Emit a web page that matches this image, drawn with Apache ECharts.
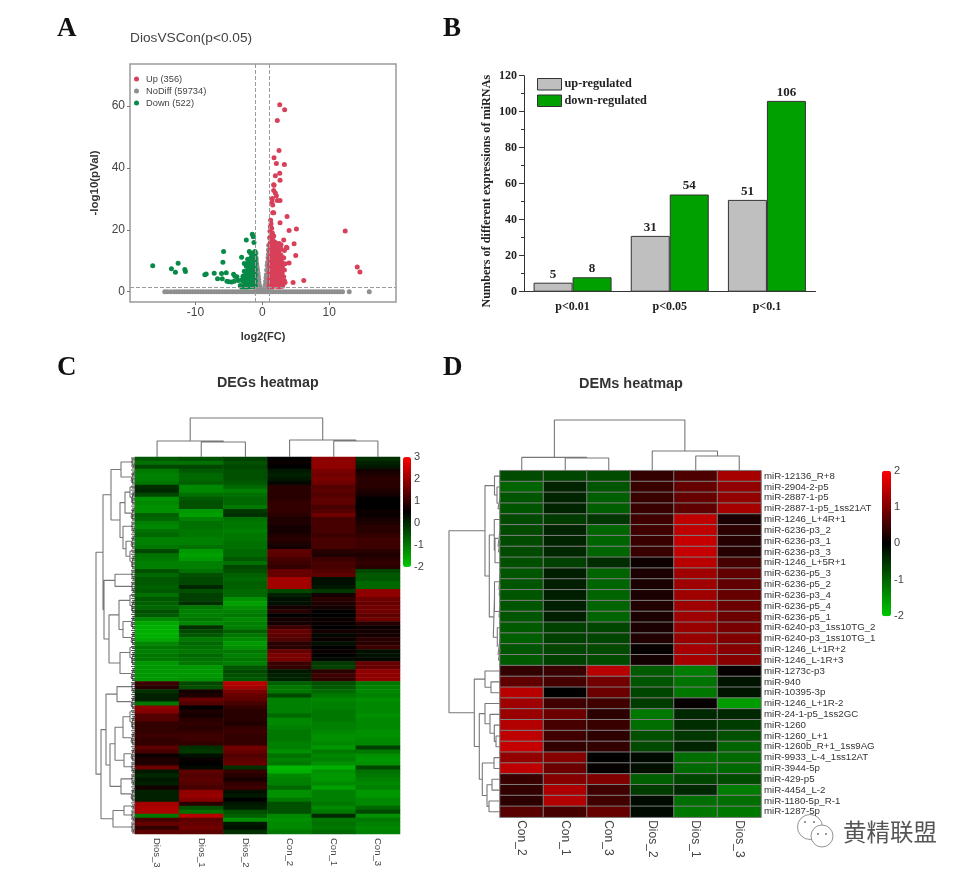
<!DOCTYPE html>
<html><head><meta charset="utf-8">
<style>html,body{margin:0;padding:0;background:#fff}#c{width:969px;height:875px;filter:blur(0.5px)}</style>
<script src="https://cdn.jsdelivr.net/npm/echarts@6/dist/echarts.min.js"></script>
</head><body><div id="c"></div>
<script>
/* Panel A: volcano points, [log2(FC), -log10(pVal)] */
const volcanoUp=[[2.6,60.4],[3.34,58.8],[2.24,55.3],[2.5,45.6],[1.75,43.3],[3.3,41.1],[2.1,41.4],[2.6,38.3],[1.95,37.5],[2.65,36],[1.75,34.4],[1.7,34.6],[1.7,32.7],[1.95,31.9],[2.1,31],[1.5,30.1],[2.25,29.5],[2.65,29.5],[1.45,29],[1.55,28],[1.55,25.5],[1.7,25.5],[3.7,24.3],[1.25,23.1],[1.3,22],[2.65,22.3],[5.1,20.3],[4,19.8],[12.4,19.6],[14.2,8],[14.6,6.4],[3.2,16.7],[4.75,15.5],[3.6,14.4],[3.7,14.2],[5,11.7],[4,9.3],[6.2,3.6],[4.6,3],[3.3,3.5],[3.1,2.4],[3,1.8],[3.4,3],
[1.2,21],[1.4,20.5],[1.15,19.5],[1.5,19],[1.3,18.2],[1.7,18],[1.1,17.4],[1.4,17],[1.6,16.6],[1.9,16],[1.2,16],[2.1,15.6],[2.5,15.6],[2.8,15.2],[1.1,15],[1.5,15],[1.8,14.6],[2.3,14.2],[2.8,13.8],[3.3,13.3],[1.25,14],[1.6,13.6],[2,13.3],[2.5,13],[1.1,13],[1.4,12.6],[1.9,12.3],[2.3,12],[2.8,11.8],[3.2,11],[1.2,11.8],[1.6,11.5],[2.1,11],[2.6,10.6],[1.05,10.8],[1.4,10.4],[1.8,10],[2.3,9.8],[2.9,9.6],[3.4,9],[1.15,9.6],[1.6,9.2],[2,9],[2.5,8.6],[3,8.2],[1.05,8.6],[1.35,8.2],[1.8,8],[2.2,7.6],[2.7,7.4],[3.3,7],[1.15,7.4],[1.55,7],[2,6.8],[2.45,6.4],[2.95,6],[1.05,6.4],[1.4,6],[1.8,5.8],[2.2,5.4],[2.7,5.2],[3.2,4.8],[1.15,5.2],[1.55,5],[2,4.6],[2.45,4.4],[2.9,4],[1.05,4.2],[1.35,4],[1.8,3.7],[2.2,3.4],[2.7,3.2],[1.15,3.2],[1.55,2.9],[2,2.6],[2.4,2.4],[1.05,2.4],[1.35,2],[1.8,1.9],[2.2,1.7],[2.6,1.6],[1.1,1.6],[1.5,1.5]];
const volcanoDown=[[-16.4,8.4],[-12.6,9.2],[-13.6,7.4],[-13,6.3],[-11.6,7.2],[-11.5,6.5],[-8.6,5.5],[-8.4,5.7],[-7.2,6],[-6.7,4.2],[-6.1,5.9],[-5.9,9.5],[-5.8,13],[-5.4,6.1],[-6,4.2],[-5.3,3.4],[-4.3,5.6],[-4.1,5],[-3.8,4.8],[-3.1,11.1],[-2.4,16.7],[-1.5,18.6],[-1.35,17.8],[-1.25,15.9],[-1.95,13],[-1.75,12.4],[-2.7,9.1],[-5,3.2],[-4.6,3.1],[-4.2,3.4],[-3.6,3.6],[-3.3,2],[-3.1,3.8],[-2.9,5],[-2.2,10.5],
[-1.1,13],[-1.3,12.6],[-1.1,12],[-1.5,11.8],[-1.2,11.2],[-1.7,11],[-1.05,10.6],[-1.4,10.4],[-1.9,10],[-1.2,9.8],[-1.6,9.6],[-2.2,9.2],[-1.05,9],[-1.4,8.8],[-1.8,8.6],[-2.4,8.2],[-1.2,8],[-1.6,7.8],[-2,7.6],[-1.05,7.2],[-1.4,7],[-1.8,6.8],[-2.3,6.7],[-2.7,6.6],[-1.2,6.2],[-1.6,6],[-2,5.8],[-2.5,5.6],[-1.05,5.4],[-1.4,5.2],[-1.8,5],[-2.2,4.8],[-2.7,4.4],[-1.2,4.4],[-1.6,4.2],[-2,4],[-2.4,3.8],[-2.9,3.4],[-1.05,3.5],[-1.4,3.3],[-1.8,3.1],[-2.2,2.9],[-2.6,2.8],[-1.2,2.6],[-1.6,2.4],[-2,2.2],[-2.4,2],[-2.9,1.8],[-1.05,1.9],[-1.4,1.7],[-1.8,1.6],[-2.2,1.5],[-2.6,1.5],[-3.1,1.5]];
const volcanoNoDiff=[[-14.6,0],[-14.2,0],[-13.7,0],[-13.2,0],[-12.8,0],[-12.4,0],[-12,0],[-11.6,0],[-11.2,0],[-10.8,0],[-10.4,0],[-10,0],[-9.6,0],[-9.2,0],[-8.8,0],[-8.4,0],[-8,0],[-7.6,0],[-7.2,0],[-6.8,0],[-6.4,0],[-6,0],[-5.6,0],[-5.2,0],[-4.8,0],[-4.4,0],[-4,0],[-3.6,0],[-3.2,0],[-2.8,0],[-2.4,0],[-2,0],[-1.6,0],[-1.2,0],[-0.8,0],[-0.4,0],[0,0],[0.4,0],[0.8,0],[1.2,0],[1.6,0],[2,0],[2.4,0],[2.8,0],[3.2,0],[3.6,0],[4,0],[4.4,0],[4.8,0],[5.2,0],[5.6,0],[6,0],[6.4,0],[6.8,0],[7.2,0],[7.6,0],[8,0],[8.4,0],[8.8,0],[9.2,0],[9.6,0],[10,0],[10.4,0],[10.8,0],[11.2,0],[11.6,0],[12,0],[13,0],[16,0],
[-0.95,12.5],[-0.92,11],[-0.9,10],[-0.85,9],[-0.95,8],[-0.78,8],[-0.72,7],[-0.9,6.5],[-0.65,6],[-0.85,5],[-0.6,5],[-0.55,4],[-0.8,3.5],[-0.5,3],[-0.7,2.5],[-0.95,4],[-0.42,2],[-0.9,2],[-0.33,1.2],[-0.6,1.2],[-0.8,1],[-0.22,0.7],[-0.97,1],
[0.95,15],[0.92,13.5],[0.9,12],[0.85,11],[0.95,10],[0.78,9.5],[0.72,8.5],[0.92,8],[0.65,7],[0.85,6],[0.6,5.5],[0.55,4.5],[0.8,4],[0.5,3.4],[0.7,2.8],[0.95,4.5],[0.42,2.2],[0.9,2],[0.33,1.3],[0.6,1.2],[0.8,1],[0.22,0.7],[0.97,1]];
const volcanoCuts={fc:[-1,1],p:1.3};
const volcanoXTicks=[-10,0,10];
const volcanoYTicks=[0,20,40,60];

/* Panel B */
const pCategories=['p<0.01','p<0.05','p<0.1'];
const upRegulated=[5,31,51];
const downRegulated=[8,54,106];

/* Panel C: rows top to bottom, columns as labelled */
const degColumns=['Dios_3','Dios_1','Dios_2','Con_2','Con_1','Con_3'];
const degValues=[
[-0.6,-0.5,-0.3,0.5,1.9,-0.1],[-0.9,-0.9,-0.5,0.6,1.9,0.1],[-0.4,-0.4,-0.4,0.5,1.9,0.2],[-1.0,-0.6,-0.5,0.2,1.7,0.7],[-1.1,-0.8,-0.5,0.1,1.6,0.8],[-1.1,-0.8,-0.5,0.2,1.7,0.9],[-1.0,-0.7,-0.6,0.4,1.6,0.9],[-0.1,-1.2,-0.8,0.9,1.3,0.9],[0,-1.2,-1.1,0.9,1.4,0.8],[-0.4,-0.9,-0.9,0.9,1.3,0.7],
[-1.3,-0.6,-0.8,0.9,1.4,0.5],[-1.2,-0.5,-0.8,1,1.4,0.5],[-1.3,-0.5,-1.0,1,1.2,0.5],[-1.3,-1.4,-0.2,1,1.3,0.6],[-0.7,-1.5,-0.1,0.9,1.6,0.6],[-0.8,-1.1,-0.9,0.8,1.2,0.7],[-1.1,-0.9,-1.0,0.8,1.2,0.8],[-1.2,-0.9,-1.0,0.7,1.2,0.9],[-0.9,-1.0,-1.1,0.7,1.2,0.9],[-0.8,-1.0,-1.0,0.8,1.1,1.0],
[-1.1,-1.1,-1.0,0.9,1.2,1.1],[-1.1,-1.1,-0.9,0.8,1.2,1.1],[-1.0,-0.9,-0.9,0.7,1.2,1.1],[-0.4,-1.4,-0.8,1.4,0.9,0.9],[-0.9,-1.5,-0.8,1.4,0.8,0.8],[-1.0,-1.4,-0.6,1.2,1.1,0.9],[-1.1,-1.1,-0.9,1.1,1.2,1.0],[-1.1,-1.1,-0.4,1.0,1.2,0.9],[-0.5,-0.9,-0.5,1.5,1.3,-0.4],[-0.8,-0.5,-0.7,1.5,1.4,-0.6],
[-0.6,-0.4,-0.8,2.1,0.3,-0.6],[-0.6,-0.4,-0.7,2.1,0.3,-0.8],[-0.7,0,-0.7,2.1,0.2,-0.8],[-0.6,-0.5,-0.8,-0.4,-0.2,1.9],[-0.9,-0.3,-0.8,0.1,0.7,1.9],[-0.6,-0.3,-1.3,0.3,0.9,1.6],[-0.7,-0.1,-1.5,0.3,0.8,1.5],[-0.8,-1.0,-1.3,0.7,0.7,1.6],[-0.5,-1.1,-1.1,0.9,0.5,1.6],[-0.6,-1.1,-1.0,0.5,0.5,1.4],
[-1.2,-1.0,-1.2,0.7,0.6,1.6],[-1.6,-1.2,-1.1,0.7,0.6,0.9],[-1.7,-0.1,-1.1,1.1,0.5,0.6],[-1.7,-0.4,-0.7,1.5,0.7,0.7],[-1.7,-0.6,-1.0,1.4,0.4,0.7],[-1.6,-1.0,-1.2,1.3,0.6,0.9],[-1.2,-0.8,-1.4,0.9,0.3,0.9],[-1.0,-0.9,-1.3,0.9,0.5,1.1],[-1.1,-1.0,-1.0,1.5,0.6,0.3],[-1.0,-0.8,-1.1,1.7,0.5,0.3],
[-1.0,-0.9,-1.0,1.7,0.4,0.4],[-1.4,-1.0,-1.1,1.1,-0.2,1.5],[-1.4,-1.4,-0.6,1.0,-0.3,1.5],[-1.4,-1.4,-0.4,0.2,0.9,1.9],[-1.4,-1.4,-0.5,0.1,1.1,1.9],[-1.4,-1.3,-0.6,0.1,1.0,1.9],[1.1,-0.4,2.3,-0.7,-0.5,-1.0],[0.9,-0.5,2.1,-1.0,-0.6,-1.1],[-0.1,0.7,1.7,-1.0,-0.8,-1.2],[0.1,0.8,1.5,-0.4,-1.0,-1.1],
[0.1,1.5,1.4,-1.1,-1.2,-1.3],[-1,1.3,1.2,-1.1,-1.1,-1.2],[1.9,0.5,1.0,-1.1,-1.1,-1.2],[1.8,0.8,0.9,-1.1,-1.0,-1.2],[1.3,0.7,0.9,-0.8,-1.0,-1.3],[1.3,0.9,0.9,-1.2,-1.0,-1.2],[1.0,1.0,0.8,-1.2,-1.1,-1.2],[1.0,0.9,1.0,-1.1,-1.1,-1.2],[1.0,1.0,1.1,-1.0,-1.2,-1.3],[1.1,1.1,1.0,-1.0,-1.3,-1.3],
[1.0,1.1,1.0,-1.0,-1.3,-1.2],[1.0,1.0,1.0,-1.1,-1.2,-1.2],[1.4,-0.1,1.6,-1.1,-1.4,-0.3],[1.2,-0.2,1.5,-1.3,-1.0,-1.0],[0.6,0.3,1.3,-0.9,-1.2,-1.3],[0.8,0.6,1.4,-1.1,-1.1,-1.4],[0.8,0.5,1.5,-1.0,-1.3,-1.3],[1.6,0.4,-0.1,-1.8,-1.7,-0.4],[0.2,1.4,1.0,-1.7,-1.3,-0.9],[0,1.3,0.9,-1.2,-1.4,-1.0],
[0.2,1.4,0.7,-1.1,-1.4,-1.1],[0.1,1.3,1.0,-1.1,-1.2,-1.2],[0.7,1.2,1.1,-0.8,-1.5,-1.1],[0.1,1.9,0.3,-1.3,-1.1,-1.4],[0.1,2.0,0.2,-1.3,-1.1,-1.4],[0.1,1.8,0.5,-1.0,-1.1,-1.2],[2.1,0.9,0.2,-0.5,-1.0,-1.2],[2.2,-0.5,0.1,-0.5,-1.2,-0.8],[2.2,-0.9,-0.5,-0.5,-1.0,-0.4],[-1.0,2.3,-0.7,-1.2,0,-1.3],
[1.2,1.4,-1.3,-1.3,-1.0,-1.0],[1.5,1.5,0.2,-1.2,-0.9,-1.1],[1.0,1.6,0.3,-1.2,-1.0,-1.2],[1.4,1.4,-0.1,-1.0,-0.8,-1.1]];
const degRows=degValues.map((r,i)=>'gene'+(i+1));

/* Panel D */
const demColumns=['Con_2','Con_1','Con_3','Dios_2','Dios_1','Dios_3'];
const demRows=['miR-12136_R+8','miR-2904-2-p5','miR-2887-1-p5','miR-2887-1-p5_1ss21AT','miR-1246_L+4R+1','miR-6236-p3_2','miR-6236-p3_1','miR-6236-p3_3','miR-1246_L+5R+1','miR-6236-p5_3','miR-6236-p5_2','miR-6236-p3_4','miR-6236-p5_4','miR-6236-p5_1','miR-6240-p3_1ss10TG_2','miR-6240-p3_1ss10TG_1','miR-1246_L+1R+2','miR-1246_L-1R+3','miR-1273c-p3','miR-940','miR-10395-3p','miR-1246_L+1R-2','miR-24-1-p5_1ss2GC','miR-1260','miR-1260_L+1','miR-1260b_R+1_1ss9AG','miR-9933_L-4_1ss12AT','miR-3944-5p','miR-429-p5','miR-4454_L-2','miR-1180-5p_R-1','miR-1287-5p'];
const demValues=[
[-0.75,-0.7,-0.75,0.4,0.6,1.3],[-1.0,-0.35,-0.85,0.45,0.8,1.15],[-0.85,-0.35,-0.95,0.45,0.8,1.15],[-0.85,-0.35,-0.95,0.45,0.75,1.3],
[-0.75,-0.6,-0.55,0.5,1.5,0.2],[-0.75,-0.35,-1.0,0.5,1.5,0.35],[-0.75,-0.35,-1.0,0.45,1.55,0.3],[-0.75,-0.4,-1.0,0.45,1.55,0.3],[-0.8,-0.65,-0.45,0.1,1.45,0.55],
[-0.85,-0.3,-1.0,0.2,1.25,0.75],[-0.85,-0.3,-1.0,0.2,1.25,0.75],[-0.85,-0.3,-1.0,0.2,1.25,0.8],[-0.85,-0.3,-1.0,0.25,1.25,0.85],[-0.85,-0.3,-1.0,0.2,1.25,0.85],
[-0.9,-0.65,-0.7,0.2,1.2,0.95],[-0.95,-0.65,-0.7,0.25,1.2,1.0],[-0.85,-0.7,-0.75,0.05,1.3,1.05],[-0.9,-0.65,-0.75,0.15,1.3,1.05],
[0.4,0.45,1.45,-0.9,-1.25,0.05],[0.75,0.55,0.9,-0.85,-1.15,-0.2],[1.45,0,0.85,-0.7,-1.2,-0.2],[1.25,0.5,0.5,-0.6,0.05,-1.55],[1.2,0.85,0.35,-1.2,-0.4,-0.4],[1.4,0.55,0.45,-1.1,-0.45,-0.6],[1.5,0.5,0.35,-0.8,-0.55,-0.8],[1.55,0.4,0.4,-0.75,-0.35,-1.0],[1.15,1.05,0,-0.1,-1.1,-1.05],[1.5,0.85,0.05,-0.15,-1.05,-1.05],[0.45,1.05,1.0,-0.95,-0.7,-0.75],[0.4,1.35,0.5,-0.6,-0.4,-1.25],[0.35,1.4,0.5,-0.1,-1.1,-1.1],[0.7,0.55,0.8,-0.1,-1.2,-1.2]];

/* Dendrograms: [merge height, left child, right child], 0 is the next leaf in order */
const a2=[2,0,0],a3=[3,0,[2,0,0]],a4=[4,[2,0,0],[2.5,0,0]],a5=[5,0,[3.5,[2,0,0],[2.5,0,0]]];
const degColTree=[39,[16,0,[15,0,0]],[17,0,[16,0,0]]];
const demColTree=[50.7,[13.3,0,[12.7,0,0]],[19.7,0,[14.7,0,0]]];
const degRowTree=[39,
 [32,[24,[14,a3,a4],[15,[10,a5,a4],[12,a3,[9,a4,a5]]]],
     [31,[20,a3,a3],[26,[16,a5,[12,a4,a4]],[15,a5,a4]]]],
 [34,[29,[18,a3,a4],[25,[20,[12,a5,a4],[11,a4,a3]],[14,a3,a4]]],[22,[11,a2,a3],a3]]];
const demRowTree=[51,
 [15,[5.5,0,[3,0,[2,0,0]]],
     [10.7,[5.7,0,[5,[2,0,[1.5,0,0]],0]],
           [6.7,[5.5,[1,0,[0.8,0,0]],[1,0,0]],[2.7,0,[2,0,[1.5,0,0]]]]]],
 [25.7,[15,0,[9,0,0]],
     [20.7,[15,0,[10,0,[5.7,0,[4,0,0]]]],
           [17.7,[6,0,0],[13,[8,0,0],[11,0,0]]]]]];

function links(tree,horizontal){
  let leaf=0;const pts=[];
  const add=(p,d)=>pts.push(horizontal?[d,p]:[p,d]);
  (function walk(n){
    if(n===0)return{p:leaf++,d:0};
    const a=walk(n[1]),b=walk(n[2]),h=n[0];
    add(a.p,a.d);add(a.p,h);add(b.p,h);add(b.p,b.d);pts.push([null,null]);
    return{p:(a.p+b.p)/2,d:h};
  })(tree);
  return pts;
}
const leafComb=degRows.flatMap((_,i)=>[[0,i-0.25],[4,i-0.25],[null,null],[0,i+0.25],[3,i+0.25],[null,null]]);
const cells=(rows)=>{const o=[];rows.forEach((r,y)=>r.forEach((v,x)=>o.push([x,y,v])));return o;};
const serif='"Liberation Serif","Times New Roman",serif', sans='"Liberation Sans",Arial,sans-serif';
const none={show:false};
const hidden=(extra)=>Object.assign({show:false},extra);
const dendroLine={color:'#777',width:1.1};
const dline=(name,tree,horizontal,gi)=>({type:'line',name,xAxisIndex:gi,yAxisIndex:gi,data:links(tree,horizontal),showSymbol:false,symbol:'none',silent:true,lineStyle:dendroLine,itemStyle:{color:'#777'},connectNulls:false,animation:false});

const grid=[
 /*0 A*/{left:130,top:64,width:266,height:238,show:true,borderColor:'#9a9a9a',borderWidth:1.5,backgroundColor:'#fff'},
 /*1 B*/{left:524,top:75.7,width:291.5,height:216},
 /*2 C heat*/{left:135,top:457,width:265,height:377},
 /*3 D heat*/{left:500,top:470.7,width:261,height:346.5},
 /*4 C col*/{left:135,top:417,width:265,height:40},
 /*5 C row*/{left:95,top:457,width:40,height:377},
 /*6 D col*/{left:500,top:418.7,width:261,height:52},
 /*7 D row*/{left:448,top:470.7,width:52,height:346.5},
 /*8 C bar*/{left:403,top:457,width:8,height:110},
 /*9 D bar*/{left:882,top:470.7,width:9,height:145.5}
];
const xAxis=[
 {gridIndex:0,type:'value',min:-19.8,max:20,splitLine:none,axisLine:{show:false,onZero:false},
  axisTick:{show:true,customValues:volcanoXTicks,lineStyle:{color:'#777'},length:3},
  axisLabel:{customValues:volcanoXTicks,fontSize:12,color:'#444',fontFamily:sans,margin:5},
  name:'log2(FC)',nameLocation:'middle',nameGap:29,nameTextStyle:{fontWeight:'bold',fontSize:11,color:'#333',fontFamily:sans}},
 {gridIndex:1,type:'category',data:pCategories,axisLine:{lineStyle:{color:'#333',width:1}},axisTick:{alignWithLabel:true,length:4,lineStyle:{color:'#333'}},
  axisLabel:{fontFamily:serif,fontWeight:'bold',fontSize:12,color:'#222',margin:9}},
 {gridIndex:2,type:'category',data:degColumns,axisLine:none,axisTick:none,axisLabel:{rotate:-90,fontSize:9.5,color:'#444',fontFamily:sans,margin:4}},
 {gridIndex:3,type:'category',data:demColumns,axisLine:none,axisTick:none,axisLabel:{rotate:-90,fontSize:12,color:'#444',fontFamily:sans,margin:3}},
 hidden({gridIndex:4,type:'value',min:-0.5,max:5.5}),
 hidden({gridIndex:5,type:'value',min:0,max:40,inverse:true}),
 hidden({gridIndex:6,type:'value',min:-0.5,max:5.5}),
 hidden({gridIndex:7,type:'value',min:0,max:52,inverse:true}),
 hidden({gridIndex:8,type:'value',min:0,max:1}),
 hidden({gridIndex:9,type:'value',min:0,max:1}),
 {gridIndex:1,type:'category',data:pCategories,position:'bottom',axisLine:none,axisLabel:none,axisTick:{length:2.5,lineStyle:{color:'#333'}}}
];
const barAxis=(min,max)=>({type:'value',min,max,interval:1,position:'right',splitLine:none,axisLine:none,axisTick:none,axisLabel:{fontSize:11,color:'#444',fontFamily:sans,margin:3}});
const yAxis=[
 {gridIndex:0,type:'value',min:-3.33,max:73.6,splitLine:none,axisLine:{show:false,onZero:false},
  axisTick:{show:true,customValues:volcanoYTicks,lineStyle:{color:'#777'},length:3},
  axisLabel:{customValues:volcanoYTicks,fontSize:12,color:'#444',fontFamily:sans,margin:5},
  name:'-log10(pVal)',nameLocation:'middle',nameGap:29,nameRotate:90,nameTextStyle:{fontWeight:'bold',fontSize:11.5,color:'#333',fontFamily:sans}},
 {gridIndex:1,type:'value',min:0,max:120,interval:20,splitLine:none,axisLine:{show:true,lineStyle:{color:'#333'}},axisTick:{show:true,length:5,lineStyle:{color:'#333'}},
  minorTick:{show:true,splitNumber:2,length:3,lineStyle:{color:'#333'}},
  axisLabel:{fontFamily:serif,fontWeight:'bold',fontSize:12,color:'#222',margin:7},
  name:'Numbers of different expressions of miRNAs',nameLocation:'middle',nameGap:31,nameTextStyle:{fontFamily:serif,fontWeight:'bold',fontSize:12.2,color:'#222',padding:[0,15,0,0]}},
 {gridIndex:2,type:'category',data:degRows,inverse:true,show:false},
 {gridIndex:3,type:'category',data:demRows,inverse:true,position:'right',axisLine:none,axisTick:none,axisLabel:{interval:0,fontSize:9.7,color:'#333',fontFamily:sans,margin:3}},
 hidden({gridIndex:4,type:'value',min:0,max:40}),
 hidden({gridIndex:5,type:'value',min:-0.5,max:93.5,inverse:true}),
 hidden({gridIndex:6,type:'value',min:0,max:52}),
 hidden({gridIndex:7,type:'value',min:-0.5,max:31.5,inverse:true}),
 Object.assign({gridIndex:8},barAxis(-2,3)),
 Object.assign({gridIndex:9},barAxis(-2,2))
];
const sc=(name,data,color,size,extra)=>Object.assign({type:'scatter',name,data,xAxisIndex:0,yAxisIndex:0,symbolSize:size,itemStyle:{color,opacity:1},animation:false},extra||{});
const series=[
 sc('NoDiff (59734)',volcanoNoDiff,'#8f8f8f',5,{z:2}),
 sc('Up (356)',volcanoUp,'#d8405a',5,{z:3}),
 sc('Down (522)',volcanoDown,'#078a48',5,{z:3,markLine:{silent:true,symbol:'none',animation:false,label:none,
   lineStyle:{color:'#9a9a9a',type:'dashed',width:1},
   data:[...volcanoCuts.fc.map(v=>({xAxis:v})),{yAxis:volcanoCuts.p}]}}),
 {type:'bar',name:'up-regulated',data:upRegulated,xAxisIndex:1,yAxisIndex:1,barWidth:39,barGap:0,animation:false,
  itemStyle:{color:'#bfbfbf',borderColor:'#333',borderWidth:1},
  label:{show:true,position:'top',distance:2,fontFamily:serif,fontWeight:'bold',fontSize:13,color:'#222'}},
 {type:'bar',name:'down-regulated',data:downRegulated,xAxisIndex:1,yAxisIndex:1,barWidth:39,barGap:0,animation:false,
  itemStyle:{color:'#00a000',borderColor:'#333',borderWidth:1},
  label:{show:true,position:'top',distance:2,fontFamily:serif,fontWeight:'bold',fontSize:13,color:'#222'}},
 {type:'heatmap',name:'DEGs',data:cells(degValues),xAxisIndex:2,yAxisIndex:2,animation:false,silent:true,progressive:0},
 {type:'heatmap',name:'DEMs',data:cells(demValues),xAxisIndex:3,yAxisIndex:3,animation:false,silent:true,progressive:0,itemStyle:{borderColor:'#7d7d7d',borderWidth:1}},
 dline('degCols',degColTree,false,4),
 dline('degRowsTree',degRowTree,true,5),
 dline('demCols',demColTree,false,6),
 dline('demRowsTree',demRowTree,true,7),
 {type:'line',name:'degLeaves',data:leafComb,xAxisIndex:5,yAxisIndex:5,showSymbol:false,symbol:'none',silent:true,lineStyle:{color:'#222',width:0.8},animation:false}
];
const letter=(text,left,top)=>({text,left,top,padding:0,textStyle:{fontFamily:serif,fontWeight:'bold',fontSize:27,color:'#111'}});
const option={
 backgroundColor:'#fff',animation:false,
 title:[
  letter('A',57,16),letter('B',443,16),letter('C',57,355),letter('D',443,355),
  {text:'DiosVSCon(p<0.05)',left:130,top:31,padding:0,textStyle:{fontFamily:sans,fontWeight:'normal',fontSize:13.7,color:'#444'}},
  {text:'DEGs heatmap',left:217,top:376,padding:0,textStyle:{fontFamily:sans,fontWeight:'bold',fontSize:14.3,color:'#333'}},
  {text:'DEMs heatmap',left:579,top:376,padding:0,textStyle:{fontFamily:sans,fontWeight:'bold',fontSize:14.5,color:'#333'}},
  {text:'黄精联盟',left:843,top:820,padding:0,textStyle:{fontFamily:'"Noto Sans CJK SC"',fontWeight:'normal',fontSize:23.5,color:'#555'}}
 ],
 grid,xAxis,yAxis,series,
 legend:[
  {orient:'vertical',left:134,top:74.5,padding:0,itemGap:3,itemWidth:9,itemHeight:5,icon:'circle',selectedMode:false,
   data:['Up (356)','NoDiff (59734)','Down (522)'],textStyle:{fontSize:9.3,color:'#444',fontFamily:sans,width:70,overflow:'none'}},
  {orient:'vertical',left:537,top:78,padding:0,itemGap:4,itemWidth:24,itemHeight:11.5,icon:'rect',selectedMode:false,
   data:['up-regulated','down-regulated'],itemStyle:{borderColor:'#333',borderWidth:1},textStyle:{fontSize:12.3,fontWeight:'bold',color:'#222',fontFamily:serif,padding:[0,0,0,-2]}}
 ],
 visualMap:[
  {type:'continuous',seriesIndex:5,min:-2,max:3,left:403,top:457,itemWidth:8,itemHeight:110,calculable:false,hoverLink:false,text:null,padding:0,
   inRange:{color:['#00c800','#000000','#ff0000']}},
  {type:'continuous',seriesIndex:6,min:-2,max:2,left:882,top:470.7,itemWidth:9,itemHeight:145.5,calculable:false,hoverLink:false,text:null,padding:0,
   inRange:{color:['#00c800','#000000','#ff0000']}}
 ],
 graphic:[{type:'group',silent:true,children:[
  {type:'circle',shape:{cx:810,cy:827,r:12.5},style:{fill:'#fff',stroke:'#777',lineWidth:0.8}},
  {type:'circle',shape:{cx:822,cy:836,r:11},style:{fill:'#fff',stroke:'#777',lineWidth:0.8}},
  {type:'circle',shape:{cx:805,cy:822,r:1},style:{fill:'#777'}},
  {type:'circle',shape:{cx:814,cy:822,r:1},style:{fill:'#777'}},
  {type:'circle',shape:{cx:818,cy:834,r:1},style:{fill:'#777'}},
  {type:'circle',shape:{cx:826,cy:834,r:1},style:{fill:'#777'}}
 ]}]
};
echarts.init(document.getElementById('c'),null,{renderer:'canvas',width:969,height:875}).setOption(option);
</script></body></html>
